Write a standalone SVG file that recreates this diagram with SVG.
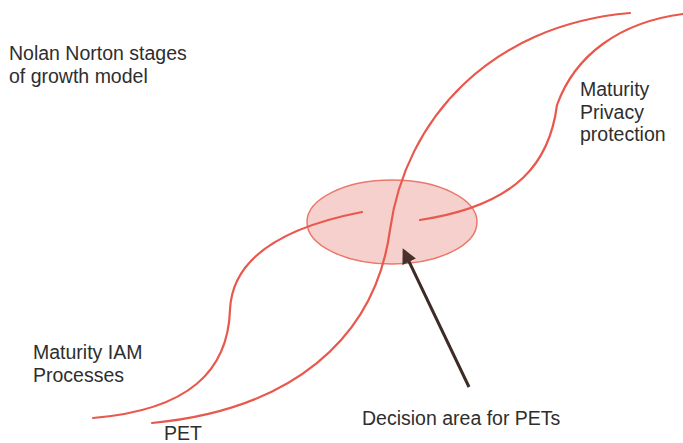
<svg xmlns="http://www.w3.org/2000/svg" width="683" height="443" viewBox="0 0 683 443">
<defs>
<style>
.lbl{font-family:"Liberation Sans",Arial,sans-serif;font-size:19.5px;fill:#2e2e2e}
.curve{fill:none;stroke:#e8584c;stroke-width:2.2;stroke-linecap:round}
</style>
<marker id="ah" markerWidth="5" markerHeight="5" refX="4" refY="2.5" orient="auto" markerUnits="strokeWidth">
<path d="M0,0 L5,2.5 L0,5 z" fill="#4a302b"/>
</marker>
</defs>
<rect width="683" height="443" fill="#ffffff"/>
<g id="decision-area">
<ellipse cx="392" cy="222" rx="85" ry="42" fill="#f6d0cc" stroke="#e9786d" stroke-width="1.5"/>
</g>
<g id="connectors">
<path id="iam-curve" class="curve" d="M93,418 C190,410 228,370 230,310 C232,260 280,228 362,212"/>
<path id="pet-curve" class="curve" d="M152,423 C290,410 375,340 390,230 C405,120 490,25 630,13"/>
<path id="privacy-curve" class="curve" d="M683,14 C620,22 575,55 557,105 C550,160 520,205 420,220"/>
<line id="arrow" x1="469" y1="387" x2="404" y2="251" stroke="#3d2b27" stroke-width="3" marker-end="url(#ah)"/>
</g>
<g id="title">
<text class="lbl" x="9" y="60">Nolan Norton stages</text>
<text class="lbl" x="9" y="83">of growth model</text>
</g>
<g id="privacy-label">
<text class="lbl" x="580" y="96">Maturity</text>
<text class="lbl" x="580" y="118.5">Privacy</text>
<text class="lbl" x="580" y="141">protection</text>
</g>
<g id="iam-label">
<text class="lbl" x="33" y="359">Maturity IAM</text>
<text class="lbl" x="33" y="382">Processes</text>
</g>
<g id="pet-label">
<text class="lbl" x="164" y="440">PET</text>
</g>
<g id="decision-label">
<text class="lbl" x="362" y="425">Decision area for PETs</text>
</g>
</svg>
